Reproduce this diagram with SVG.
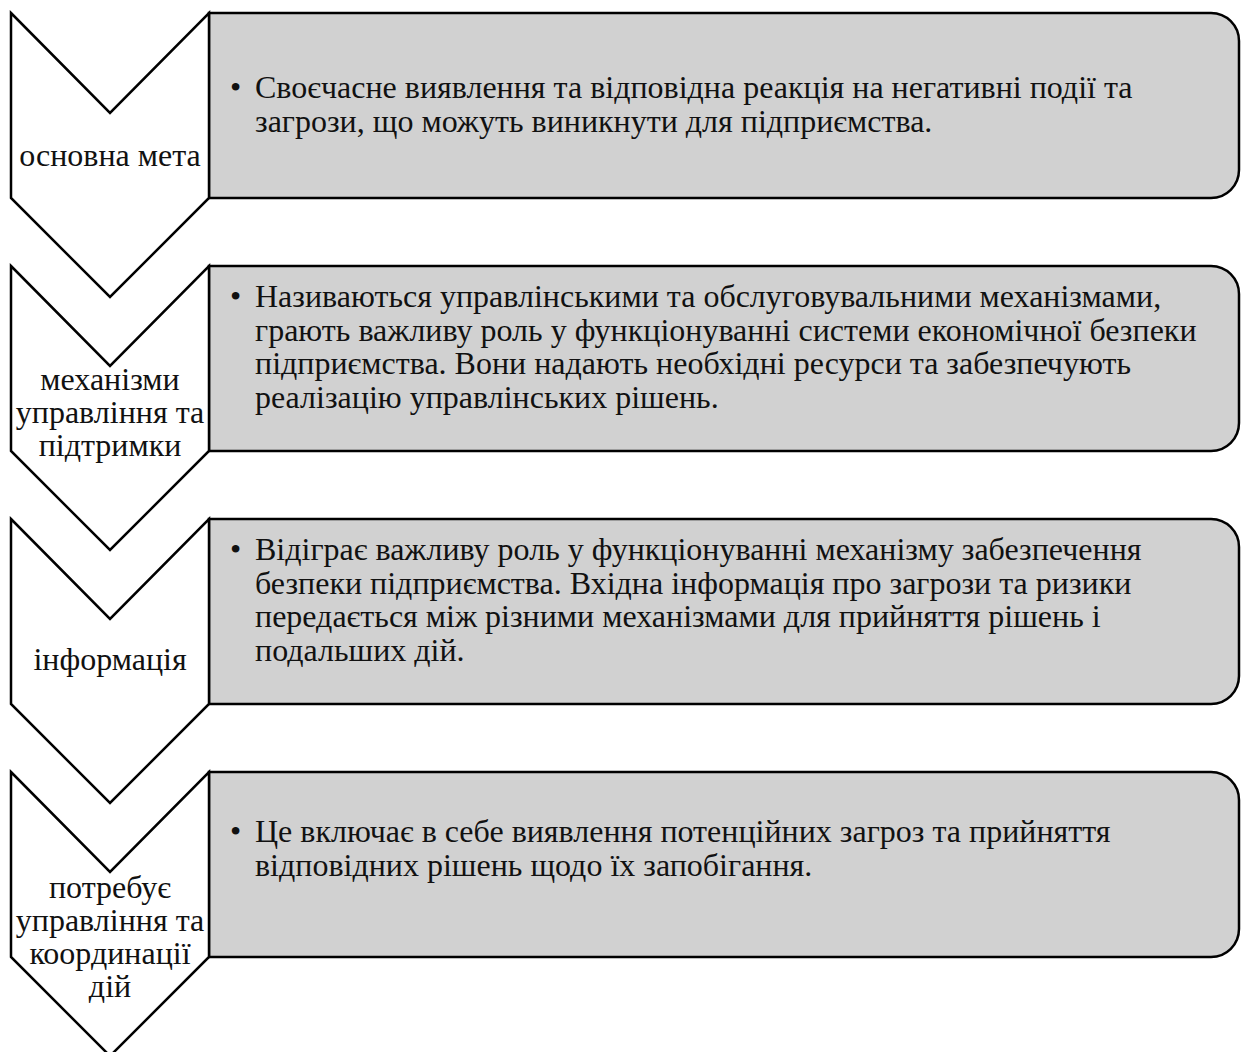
<svg xmlns="http://www.w3.org/2000/svg" width="1245" height="1052" viewBox="0 0 1245 1052">
<style>
.box{fill:#d1d1d1;stroke:#000;stroke-width:2.5}
.chev{fill:#fff;stroke:#000;stroke-width:2.5;stroke-linejoin:miter}
text{font-family:"Liberation Serif","Times New Roman",serif;font-size:32px;fill:#111}
.lbl{text-anchor:middle}
</style>
<defs>
<path id="boxShape" d="M209,0 H1211 A28,28 0 0 1 1239,28 V157 A28,28 0 0 1 1211,185 H209 Z"/>
<path id="chevShape" d="M11,0 L110,100 L209,0 L209,185 L110,284 L11,185 Z"/>
</defs>
<g id="connectors"></g>
<g id="box1" transform="translate(0,13)">
<use href="#boxShape" class="box"/>
<text x="230" y="85">•</text>
<text x="255" y="85">Своєчасне виявлення та відповідна реакція на негативні події та</text>
<text x="255" y="119">загрози, що можуть виникнути для підприємства.</text>
</g>
<g id="chev1" transform="translate(0,13)">
<use href="#chevShape" class="chev"/>
<text class="lbl" x="110" y="153">основна мета</text>
</g>
<g id="box2" transform="translate(0,266)">
<use href="#boxShape" class="box"/>
<text x="230" y="41">•</text>
<text x="255" y="41">Називаються управлінськими та обслуговувальними механізмами,</text>
<text x="255" y="75">грають важливу роль у функціонуванні системи економічної безпеки</text>
<text x="255" y="108">підприємства. Вони надають необхідні ресурси та забезпечують</text>
<text x="255" y="142">реалізацію управлінських рішень.</text>
</g>
<g id="chev2" transform="translate(0,266)">
<use href="#chevShape" class="chev"/>
<text class="lbl" x="110" y="124">механізми</text>
<text class="lbl" x="110" y="157">управління та</text>
<text class="lbl" x="110" y="190">підтримки</text>
</g>
<g id="box3" transform="translate(0,519)">
<use href="#boxShape" class="box"/>
<text x="230" y="41">•</text>
<text x="255" y="41">Відіграє важливу роль у функціонуванні механізму забезпечення</text>
<text x="255" y="75">безпеки підприємства. Вхідна інформація про загрози та ризики</text>
<text x="255" y="108">передається між різними механізмами для прийняття рішень і</text>
<text x="255" y="142">подальших дій.</text>
</g>
<g id="chev3" transform="translate(0,519)">
<use href="#chevShape" class="chev"/>
<text class="lbl" x="110" y="151">інформація</text>
</g>
<g id="box4" transform="translate(0,772)">
<use href="#boxShape" class="box"/>
<text x="230" y="70">•</text>
<text x="255" y="70">Це включає в себе виявлення потенційних загроз та прийняття</text>
<text x="255" y="104">відповідних рішень щодо їх запобігання.</text>
</g>
<g id="chev4" transform="translate(0,772)">
<use href="#chevShape" class="chev"/>
<text class="lbl" x="110" y="126">потребує</text>
<text class="lbl" x="110" y="159">управління та</text>
<text class="lbl" x="110" y="192">координації</text>
<text class="lbl" x="110" y="225">дій</text>
</g>
</svg>
